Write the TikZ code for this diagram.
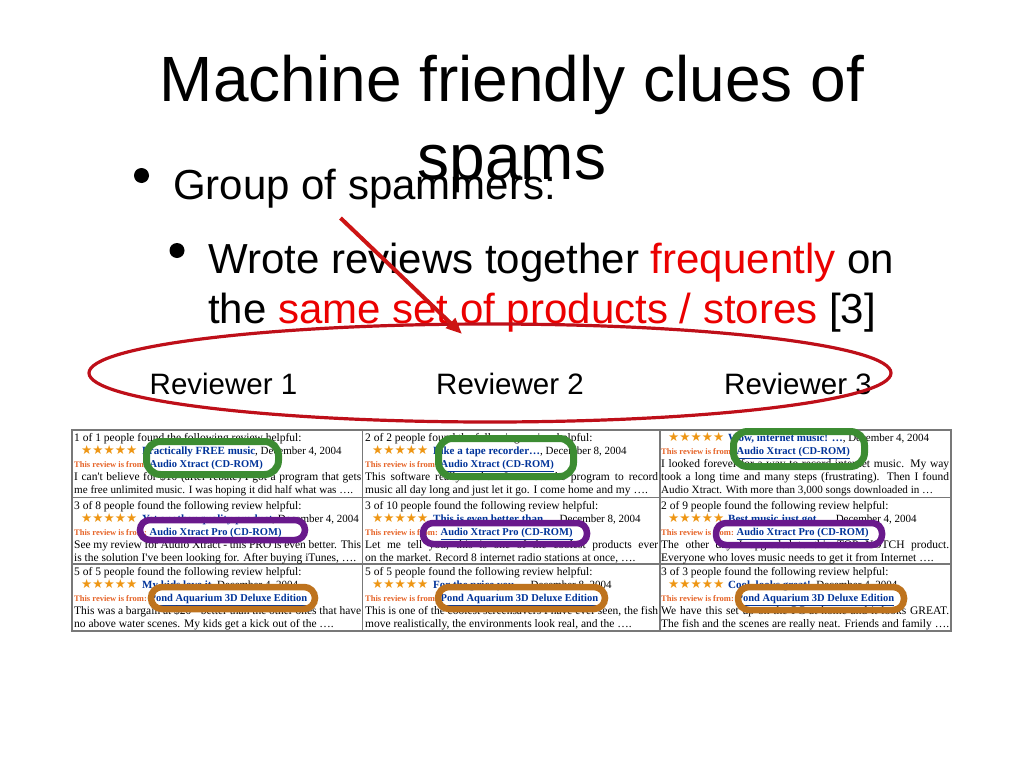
\documentclass[tikz,border=0pt]{standalone}
\usepackage{fontspec}
\setmainfont{Liberation Sans}
\newfontfamily\tms{Liberation Serif}
\newfontfamily\djv{DejaVu Sans}
\usetikzlibrary{arrows.meta}
\definecolor{linkc}{RGB}{0,51,153}
\definecolor{fromc}{RGB}{230,100,40}
\definecolor{starc}{RGB}{238,150,20}
\definecolor{grn}{RGB}{60,140,50}
\definecolor{prp}{RGB}{105,25,140}
\definecolor{brn}{RGB}{190,115,30}
\definecolor{penred}{RGB}{190,15,25}
\definecolor{arrred}{RGB}{205,20,20}
\definecolor{hired}{RGB}{235,0,0}
\definecolor{gridc}{RGB}{120,120,120}
\newcommand\fivestars{{\djv\fontsize{12.5}{12.5}\selectfont\color{starc}★★★★★}}
\newcommand\rtitle[1]{{\fontsize{11}{13}\selectfont\bfseries\color{linkc}#1}}
\newcommand\rdate[1]{{\fontsize{11}{13}\selectfont #1}}
\newcommand\revfrom[1]{{\fontsize{8.5}{10}\selectfont\bfseries\color{fromc}This review is from: }{\fontsize{10.5}{12}\selectfont\bfseries\color{linkc}\underline{#1}}}
\newcommand\jline[2]{\makebox[#1][s]{#2}}
\newcommand\smallline[1]{{\fontsize{11.1}{13}\selectfont #1}}
\begin{document}
\begin{tikzpicture}[x=1pt,y=-1pt,
  ttl/.style={anchor=base, inner sep=0, font=\fontsize{64}{77}\selectfont},
  lvl/.style={anchor=base west, inner sep=0, font=\fontsize{42}{50}\selectfont},
  lvltwo/.style={anchor=base west, inner sep=0, font=\fontsize{42}{50}\selectfont},
  rev/.style={anchor=base west, inner sep=0, font=\fontsize{29.5}{35}\selectfont},
  cell/.style={anchor=base west, inner sep=0, font=\tms\fontsize{11.5}{13}\selectfont},
  blt/.style={circle, fill=black, inner sep=0, minimum size=15pt},
  grid/.style={draw=gridc, line width=1.5pt},
  grnpen/.style={draw=grn, line width=7pt, rounded corners=14pt},
  prppen/.style={draw=prp, line width=6.5pt, rounded corners=10pt},
  brnpen/.style={draw=brn, line width=6.5pt, rounded corners=11pt},
  redpen/.style={draw=penred, line width=3.2pt},
  arr/.style={draw=arrred, line width=4pt, -{Triangle[length=16pt,width=13pt]}}
]
\path[fill=white,use as bounding box] (0,0) rectangle (1024,768);

% title
\node[ttl] (title1) at (512,101.5) {Machine friendly clues of};
\node[ttl] (title2) at (512,179) {spams};

% bullets
\node[blt] (b1) at (141.5,175.5) {};
\node[lvl] (g1) at (173,199) {Group of spammers:};
\node[blt] (b2) at (177,250.5) {};
\node[lvltwo] (w1) at (208,273.5) {Wrote reviews together \textcolor{hired}{frequently} on};
\node[lvltwo] (w2) at (208,323.5) {the \textcolor{hired}{same set of products / stores} [3]};

% reviewers
\node[rev] (rv1) at (149.5,394.5) {Reviewer 1};
\node[rev] (rv2) at (436,394.5) {Reviewer 2};
\node[rev] (rv3) at (724,394.5) {Reviewer 3};

% table grid
\draw[grid] (72,430) rectangle (951,631);
\draw[grid] (362.5,430) -- (362.5,631);
\draw[grid] (660,430) -- (660,631);
\draw[grid] (72,497.5) -- (951,497.5);
\draw[grid] (72,564) -- (951,564);

% row 1
\node[cell] (r1c1a) at (74,441.5) {1 of 1 people found the following review helpful:};
\node[cell] (r1c1s) at (81,454.6) {\fivestars};
\node[cell] (r1c1b) at (142,454.6) {\rtitle{Practically FREE music}\rdate{, December 4, 2004}};
\node[cell] (r1c1c) at (74,467.7) {\revfrom{Audio Xtract (CD-ROM)}};
\node[cell] (r1c1d) at (74,480.8) {\jline{287pt}{I can't believe for \$10 (after rebate) I got a program that gets}};
\node[cell] (r1c1e) at (74,493.9) {\smallline{me free unlimited music. I was hoping it did half what was ….}};

\node[cell] (r1c2a) at (365,441.5) {2 of 2 people found the following review helpful:};
\node[cell] (r1c2s) at (372,454.6) {\fivestars};
\node[cell] (r1c2b) at (433,454.6) {\rtitle{Like a tape recorder…}\rdate{, December 8, 2004}};
\node[cell] (r1c2c) at (365,467.7) {\revfrom{Audio Xtract (CD-ROM)}};
\node[cell] (r1c2d) at (365,480.8) {\jline{293pt}{This software really rocks. I can set the program to record}};
\node[cell] (r1c2e) at (365,493.9) {music all day long and just let it go. I come home and my ….};

\node[cell] (r1c3s) at (668,441.5) {\fivestars};
\node[cell] (r1c3b) at (728,441.5) {\rtitle{Wow, internet music! …}\rdate{, December 4, 2004}};
\node[cell] (r1c3c) at (661,454.6) {\revfrom{Audio Xtract (CD-ROM)}};
\node[cell] (r1c3d) at (661,467.7) {\jline{288pt}{I looked forever for a way to record internet music. My way}};
\node[cell] (r1c3e) at (661,480.8) {\jline{288pt}{took a long time and many steps (frustrating). Then I found}};
\node[cell] (r1c3f) at (661,493.9) {\smallline{Audio Xtract. With more than 3,000 songs downloaded in …}};

% row 2
\node[cell] (r2c1a) at (74,509) {3 of 8 people found the following review helpful:};
\node[cell] (r2c1s) at (81,522.1) {\fivestars};
\node[cell] (r2c1b) at (142,522.1) {\rtitle{Yet another quality product}\rdate{, December 4, 2004}};
\node[cell] (r2c1c) at (74,535.2) {\revfrom{Audio Xtract Pro (CD-ROM)}};
\node[cell] (r2c1d) at (74,548.3) {\jline{287pt}{See my review for Audio Xtract - this PRO is even better. This}};
\node[cell] (r2c1e) at (74,561.4) {is the solution I've been looking for. After buying iTunes, ….};

\node[cell] (r2c2a) at (365,509) {3 of 10 people found the following review helpful:};
\node[cell] (r2c2s) at (372,522.1) {\fivestars};
\node[cell] (r2c2b) at (433,522.1) {\rtitle{This is even better than…}\rdate{, December 8, 2004}};
\node[cell] (r2c2c) at (365,535.2) {\revfrom{Audio Xtract Pro (CD-ROM)}};
\node[cell] (r2c2d) at (365,548.3) {\jline{293pt}{Let me tell you, this is one of the coolest products ever}};
\node[cell] (r2c2e) at (365,561.4) {on the market. Record 8 internet radio stations at once, ….};

\node[cell] (r2c3a) at (661,509) {2 of 9 people found the following review helpful:};
\node[cell] (r2c3s) at (668,522.1) {\fivestars};
\node[cell] (r2c3b) at (728,522.1) {\rtitle{Best music just got …}\rdate{, December 4, 2004}};
\node[cell] (r2c3c) at (661,535.2) {\revfrom{Audio Xtract Pro (CD-ROM)}};
\node[cell] (r2c3d) at (661,548.3) {\jline{288pt}{The other day I upgraded to this TOP NOTCH product.}};
\node[cell] (r2c3e) at (661,561.4) {Everyone who loves music needs to get it from Internet ….};

% row 3
\node[cell] (r3c1a) at (74,575.5) {5 of 5 people found the following review helpful:};
\node[cell] (r3c1s) at (81,588.6) {\fivestars};
\node[cell] (r3c1b) at (142,588.6) {\rtitle{My kids love it}\rdate{, December 4, 2004}};
\node[cell] (r3c1c) at (74,601.7) {\revfrom{Pond Aquarium 3D Deluxe Edition}};
\node[cell] (r3c1d) at (74,614.8) {\jline{287pt}{This was a bargain at \$20 - better than the other ones that have}};
\node[cell] (r3c1e) at (74,627.9) {no above water scenes. My kids get a kick out of the ….};

\node[cell] (r3c2a) at (365,575.5) {5 of 5 people found the following review helpful:};
\node[cell] (r3c2s) at (372,588.6) {\fivestars};
\node[cell] (r3c2b) at (433,588.6) {\rtitle{For the price you…}\rdate{, December 8, 2004}};
\node[cell] (r3c2c) at (365,601.7) {\revfrom{Pond Aquarium 3D Deluxe Edition}};
\node[cell] (r3c2d) at (365,614.8) {\jline{293pt}{This is one of the coolest screensavers I have ever seen, the fish}};
\node[cell] (r3c2e) at (365,627.9) {move realistically, the environments look real, and the ….};

\node[cell] (r3c3a) at (661,575.5) {3 of 3 people found the following review helpful:};
\node[cell] (r3c3s) at (668,588.6) {\fivestars};
\node[cell] (r3c3b) at (728,588.6) {\rtitle{Cool, looks great!}\rdate{, December 4, 2004}};
\node[cell] (r3c3c) at (661,601.7) {\revfrom{Pond Aquarium 3D Deluxe Edition}};
\node[cell] (r3c3d) at (661,614.8) {\jline{288pt}{We have this set up on the PC at home and it looks GREAT.}};
\node[cell] (r3c3e) at (661,627.9) {\jline{288pt}{The fish and the scenes are really neat.  Friends and family ….}};

% hand-drawn marks
\draw[grnpen] (146.5,441.5) rectangle (278.5,474.5);
\draw[grnpen] (438.5,438.5) rectangle (573.5,476.5);
\draw[grnpen] (733.5,431.5) rectangle (864.5,466.5);
\draw[prppen] (140,520) rectangle (305,540);
\draw[prppen] (423,523) rectangle (587,544);
\draw[prppen] (716,523) rectangle (882,545);
\draw[brnpen] (151,587) rectangle (315,609);
\draw[brnpen] (438,587) rectangle (605,609);
\draw[brnpen] (738,587) rectangle (904,610);

% red group ellipse and arrow
\draw[redpen] (490,373) ellipse [x radius=401, y radius=49];
\coordinate (as) at (340.5,218);
\coordinate (ae) at (462,334);
\draw[arr] (as) -- (ae);
\end{tikzpicture}
\end{document}
